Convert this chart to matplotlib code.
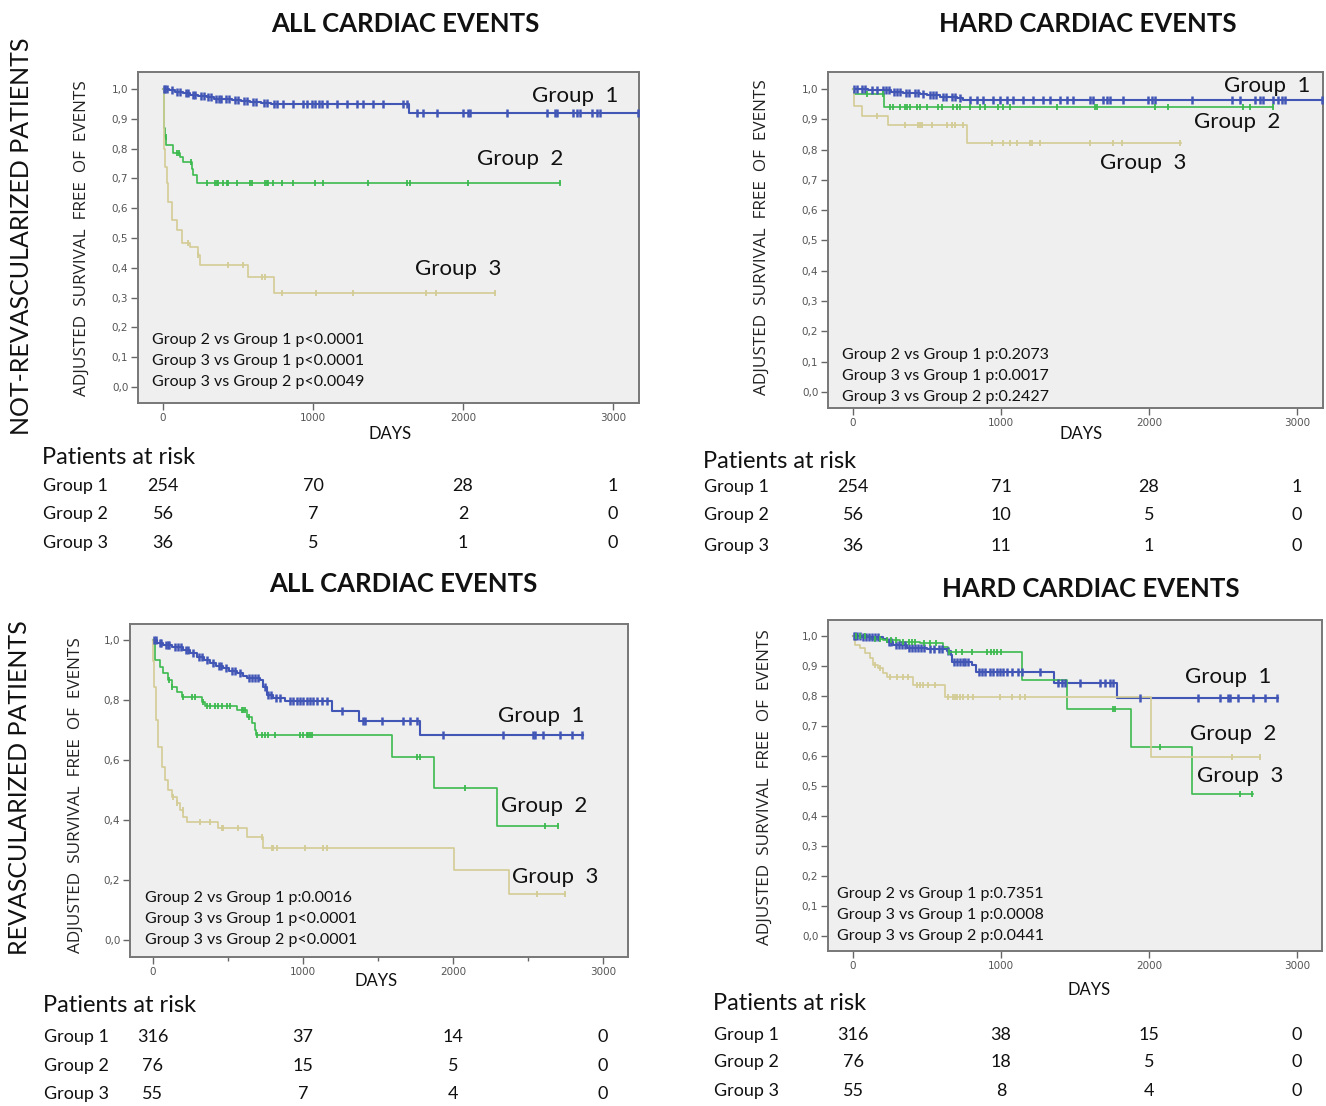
import numpy as np
import matplotlib
matplotlib.use('Agg')
import matplotlib.pyplot as plt
from matplotlib.transforms import blended_transform_factory

# ---- data (days, adjusted survival) ----
# Panel A: not-revascularized, all cardiac events
a_g1_t = [0, 40, 80, 130, 180, 230, 290, 340, 400, 460, 520, 580, 650, 720, 1640]
a_g1_s = [1.0, 0.995, 0.99, 0.985, 0.98, 0.976, 0.972, 0.968, 0.965, 0.962, 0.958, 0.955, 0.952, 0.948, 0.92]
a_g1_end = 3169
a_g1_cens = [5, 15, 25, 60, 95, 110, 150, 165, 200, 215, 250, 270, 300, 320, 355, 370, 385, 420, 440,
             480, 500, 540, 560, 600, 620, 670, 690, 740, 758, 800, 868, 935, 960, 990, 1010, 1040,
             1060, 1093, 1160, 1227, 1293, 1333, 1400, 1467, 1600, 1627, 1691, 1736, 1824, 2002,
             2036, 2047, 2291, 2558, 2613, 2624, 2735, 2758, 2780, 2858, 2891, 2913, 3169]
a_g2_t = [0, 3, 10, 22, 69, 113, 136, 191, 202, 224]
a_g2_s = [1.0, 0.87, 0.84, 0.812, 0.784, 0.771, 0.756, 0.73, 0.711, 0.686]
a_g2_end = 2645
a_g2_cens = [20, 90, 105, 185, 291, 347, 358, 369, 402, 424, 436, 491, 580, 591, 680, 691, 702, 736,
             791, 869, 1013, 1069, 1369, 1624, 1647, 2036, 2645]
a_g3_t = [0, 5, 13, 24, 36, 58, 91, 124, 180, 236, 247, 569, 740]
a_g3_s = [1.0, 0.8, 0.739, 0.683, 0.622, 0.56, 0.527, 0.482, 0.471, 0.443, 0.409, 0.368, 0.314]
a_g3_end = 2213
a_g3_cens = [169, 236, 436, 536, 658, 680, 791, 1020, 1269, 1753, 1820, 2213]

# Panel B: not-revascularized, hard cardiac events
b_g1_t = [0, 100, 182, 260, 340, 400, 453, 498, 588, 650, 700, 745]
b_g1_s = [1.0, 0.998, 0.995, 0.991, 0.988, 0.986, 0.983, 0.98, 0.975, 0.972, 0.969, 0.964]
b_g1_end = 3170
b_g1_cens = [10, 30, 60, 80, 130, 160, 200, 220, 240, 280, 300, 320, 360, 380, 420, 440, 470, 520,
             540, 560, 610, 630, 670, 690, 720, 791, 836, 881, 948, 993, 1038, 1083, 1151, 1218,
             1286, 1331, 1399, 1444, 1489, 1601, 1624, 1691, 1714, 1736, 1826, 1995, 2018, 2041,
             2288, 2559, 2615, 2716, 2750, 2772, 2840, 2874, 2897, 2919, 3167]
b_g2_t = [0, 10, 209]
b_g2_s = [1.0, 0.982, 0.94]
b_g2_end = 2840
b_g2_cens = [92, 205, 250, 273, 318, 351, 363, 385, 430, 453, 498, 577, 599, 678, 700, 723, 791,
             858, 892, 982, 1016, 1061, 1376, 1635, 1646, 2041, 2131, 2637, 2682, 2840]
b_g3_t = [0, 10, 59, 239, 768]
b_g3_s = [1.0, 0.944, 0.912, 0.881, 0.823]
b_g3_end = 2215
b_g3_cens = [160, 351, 441, 453, 464, 532, 633, 667, 689, 745, 937, 1016, 1061, 1106, 1196, 1207,
             1264, 1601, 1759, 1815, 2209]

# Panel C: revascularized, all cardiac events
c_g1_t = [0, 30, 69, 130, 202, 250, 291, 340, 380, 420, 469, 510, 558, 600, 624, 713, 736, 758,
          802, 880, 1191, 1376, 1780]
c_g1_s = [1.0, 0.99, 0.982, 0.975, 0.967, 0.955, 0.944, 0.933, 0.922, 0.914, 0.906, 0.897, 0.889,
          0.88, 0.872, 0.865, 0.844, 0.817, 0.807, 0.797, 0.764, 0.731, 0.683]
c_g1_end = 2870
c_g1_cens = [10, 20, 45, 55, 90, 100, 110, 150, 170, 185, 220, 235, 270, 310, 325, 360, 400, 440,
             455, 490, 530, 545, 580, 640, 660, 680, 700, 750, 770, 790, 820, 850, 913, 936, 958,
             980, 1002, 1024, 1047, 1069, 1091, 1124, 1158, 1258, 1402, 1413, 1524, 1669, 1713,
             1758, 1936, 2336, 2536, 2547, 2602, 2713, 2791, 2858]
c_g2_t = [0, 13, 47, 69, 102, 124, 158, 191, 324, 347, 558, 624, 658, 680, 687, 1591, 1873, 2291]
c_g2_s = [1.0, 0.933, 0.911, 0.889, 0.867, 0.844, 0.828, 0.809, 0.794, 0.78, 0.767, 0.744, 0.722,
          0.7, 0.683, 0.611, 0.508, 0.381]
c_g2_end = 2702
c_g2_cens = [109, 130, 202, 258, 280, 336, 358, 380, 413, 436, 458, 491, 513, 591, 602, 613, 640,
             691, 724, 747, 769, 813, 980, 1002, 1024, 1036, 1047, 1058, 1758, 1780, 2080, 2613, 2702]
c_g3_t = [0, 3, 7, 20, 36, 58, 80, 102, 124, 158, 180, 202, 224, 436, 624, 736, 2007, 2373]
c_g3_s = [1.0, 0.93, 0.844, 0.733, 0.644, 0.578, 0.533, 0.5, 0.478, 0.456, 0.433, 0.411, 0.394,
          0.372, 0.342, 0.306, 0.233, 0.153]
c_g3_end = 2747
c_g3_cens = [135, 160, 200, 311, 380, 458, 469, 569, 724, 791, 802, 824, 1013, 1136, 1158, 2558, 2747]

# Panel D: revascularized, hard cardiac events
d_g1_t = [0, 60, 205, 227, 273, 363, 500, 633, 660, 671, 806, 829, 1356, 1782]
d_g1_s = [1.0, 0.995, 0.99, 0.981, 0.97, 0.959, 0.955, 0.95, 0.937, 0.914, 0.903, 0.879, 0.844, 0.794]
d_g1_end = 2874
d_g1_cens = [5, 15, 30, 45, 70, 90, 110, 130, 150, 170, 240, 260, 290, 310, 330, 350, 380, 400,
             420, 440, 460, 480, 520, 550, 580, 600, 640, 680, 700, 720, 740, 760, 780, 850, 870,
             890, 926, 948, 971, 993, 1016, 1038, 1072, 1117, 1140, 1264, 1387, 1410, 1432, 1534,
             1669, 1703, 1736, 1759, 1939, 2333, 2480, 2536, 2547, 2604, 2705, 2784, 2863]
d_g2_t = [0, 115, 205, 318, 453, 611, 640, 1140, 1444, 1876, 2288]
d_g2_s = [1.0, 0.99, 0.987, 0.981, 0.976, 0.964, 0.948, 0.852, 0.757, 0.63, 0.473]
d_g2_end = 2700
d_g2_cens = [20, 50, 80, 150, 180, 230, 260, 290, 340, 380, 400, 420, 480, 520, 559, 649, 694, 739,
             806, 907, 930, 953, 975, 998, 1754, 1770, 2074, 2615, 2694]
d_g3_t = [0, 14, 47, 81, 115, 137, 171, 205, 227, 408, 622, 2014]
d_g3_s = [1.0, 0.97, 0.959, 0.942, 0.926, 0.903, 0.892, 0.876, 0.864, 0.837, 0.797, 0.596]
d_g3_end = 2750
d_g3_cens = [149, 182, 250, 295, 340, 374, 430, 453, 476, 509, 554, 644, 678, 689, 700, 723, 745,
             779, 813, 993, 1072, 1128, 1162, 2559, 2750]

# patients at risk at 0, 1000, 2000, 3000 days
risk_days = [0, 1000, 2000, 3000]
risk_a = [[254, 70, 28, 1], [56, 7, 2, 0], [36, 5, 1, 0]]
risk_b = [[254, 71, 28, 1], [56, 10, 5, 0], [36, 11, 1, 0]]
risk_c = [[316, 37, 14, 0], [76, 15, 5, 0], [55, 7, 4, 0]]
risk_d = [[316, 38, 15, 0], [76, 18, 5, 0], [55, 8, 4, 0]]

group_names = ['Group 1', 'Group 2', 'Group 3']
pvals_a = ['Group 2 vs Group 1 p<0.0001', 'Group 3 vs Group 1 p<0.0001', 'Group 3 vs Group 2 p<0.0049']
pvals_b = ['Group 2 vs Group 1 p:0.2073', 'Group 3 vs Group 1 p:0.0017', 'Group 3 vs Group 2 p:0.2427']
pvals_c = ['Group 2 vs Group 1 p:0.0016', 'Group 3 vs Group 1 p<0.0001', 'Group 3 vs Group 2 p<0.0001']
pvals_d = ['Group 2 vs Group 1 p:0.7351', 'Group 3 vs Group 1 p:0.0008', 'Group 3 vs Group 2 p:0.0441']

colors = ['#4256b6', '#3dba4f', '#d3cc96']

# ---- figure ----
W, H = 1326, 1106
fig = plt.figure(figsize=(W / 100, H / 100), dpi=100)
fig.patch.set_facecolor('white')
FONT = 'Lato'


def fx(x):
    return x / W


def fy(y):
    return 1 - y / H


def txt(x, y, s, **kw):
    kw.setdefault('family', FONT)
    kw.setdefault('color', '#111111')
    fig.text(fx(x), fy(y), s, **kw)


def km(ax, t, s, end, cens, color, lw=1.2, ms=5, mew=1.3):
    tt = list(t) + [end]
    ss = list(s) + [s[-1]]
    ax.step(tt, ss, where='post', color=color, lw=lw, zorder=3)
    idx = np.searchsorted(t, cens, side='right') - 1
    ax.plot(cens, np.array(s)[idx], ls='none', marker='|', ms=ms, mew=mew, color=color, zorder=4)


def panel(box, xlim, ylim, yticks, curves, pvals, p_pos, lab_pos, title, title_pos,
          ylab_pos, days_pos, risk, risk_head, risk_rows, risk_lab_x, minor=False):
    x0, y0, x1, y1 = box
    ax = fig.add_axes([fx(x0), fy(y1), (x1 - x0) / W, (y1 - y0) / H])
    ax.set_facecolor('#efefef')
    for i, (c, (t, s, end, cens)) in enumerate(zip(colors, curves)):
        if i == 0:
            km(ax, t, s, end, cens, c, lw=1.5, ms=6, mew=1.8)
        else:
            km(ax, t, s, end, cens, c)
    ax.set_xlim(*xlim)
    ax.set_ylim(*ylim)
    ax.set_xticks(risk_days)
    ax.set_yticks(yticks)
    ax.set_yticklabels([f'{v:.1f}'.replace('.', ',') for v in yticks])
    if minor:
        ax.set_xticks([500, 1500, 2500], minor=True)
    ax.tick_params(axis='both', which='both', direction='out', length=5, width=1,
                   color='#666666', labelsize=7.5, labelcolor='#555555', pad=2)
    ax.tick_params(which='minor', length=3)
    for sp in ax.spines.values():
        sp.set_color('#777777')
        sp.set_linewidth(1.4)
    # in-plot texts
    for (px, py), p in zip(p_pos, pvals):
        txt(px, py, p, fontsize=11.5, ha='left', va='center')
    for (px, py), g in zip(lab_pos, group_names):
        txt(px, py, g.replace(' ', '  '), fontsize=16, ha='center', va='center')
    txt(title_pos[0], title_pos[1], title, fontsize=18.5, weight='bold', ha='center', va='center')
    txt(ylab_pos[0], ylab_pos[1], 'ADJUSTED  SURVIVAL  FREE  OF  EVENTS', fontsize=12.3,
        rotation=90, ha='center', va='center', color='#222222', family='Open Sans')
    txt(days_pos[0], days_pos[1], 'DAYS', fontsize=12, ha='center', va='center')
    # patients at risk table
    txt(risk_lab_x, risk_head, 'Patients at risk', fontsize=17, ha='left', va='center')
    tr = blended_transform_factory(ax.transData, fig.transFigure)
    for g, row, ry in zip(group_names, risk, risk_rows):
        txt(risk_lab_x + 1, ry, g, fontsize=13, ha='left', va='center')
        for d, n in zip(risk_days, row):
            ax.text(d, fy(ry), str(n), transform=tr, fontsize=13, ha='center', va='center',
                    family=FONT, color='#111111', clip_on=False)
    return ax


yt10 = [0.0, 0.1, 0.2, 0.3, 0.4, 0.5, 0.6, 0.7, 0.8, 0.9, 1.0]
yt5 = [0.0, 0.2, 0.4, 0.6, 0.8, 1.0]

panel((138, 72, 639, 403), (-167, 3173), (-0.054, 1.057), yt10,
      [(a_g1_t, a_g1_s, a_g1_end, a_g1_cens), (a_g2_t, a_g2_s, a_g2_end, a_g2_cens),
       (a_g3_t, a_g3_s, a_g3_end, a_g3_cens)],
      pvals_a, [(152, 340), (152, 361), (152, 382)], [(575, 96), (520, 159), (458, 269)],
      'ALL CARDIAC EVENTS', (405, 24), (82, 238), (390, 434),
      risk_a, 458, [486, 514, 543], 42)

panel((828, 72, 1323, 408), (-169, 3176), (-0.053, 1.056), yt10,
      [(b_g1_t, b_g1_s, b_g1_end, b_g1_cens), (b_g2_t, b_g2_s, b_g2_end, b_g2_cens),
       (b_g3_t, b_g3_s, b_g3_end, b_g3_cens)],
      pvals_b, [(842, 355), (842, 376), (842, 397)], [(1267, 86), (1237, 122), (1143, 163)],
      'HARD CARDIAC EVENTS', (1088, 24), (762, 237), (1081, 434),
      risk_b, 461, [487, 515, 546], 703)

panel((130, 624, 628, 957), (-153, 3167), (-0.057, 1.053), yt5,
      [(c_g1_t, c_g1_s, c_g1_end, c_g1_cens), (c_g2_t, c_g2_s, c_g2_end, c_g2_cens),
       (c_g3_t, c_g3_s, c_g3_end, c_g3_cens)],
      pvals_c, [(145, 898), (145, 919), (145, 940)], [(541, 716), (544, 806), (555, 877)],
      'ALL CARDIAC EVENTS', (403, 584), (76, 795), (376, 981),
      risk_c, 1005, [1037, 1066, 1094], 43, minor=True)

panel((828, 620, 1322, 951), (-169, 3169), (-0.05, 1.053), yt10,
      [(d_g1_t, d_g1_s, d_g1_end, d_g1_cens), (d_g2_t, d_g2_s, d_g2_end, d_g2_cens),
       (d_g3_t, d_g3_s, d_g3_end, d_g3_cens)],
      pvals_d, [(837, 894), (837, 915), (837, 936)], [(1228, 677), (1233, 734), (1240, 776)],
      'HARD CARDIAC EVENTS', (1091, 589), (765, 787), (1089, 990),
      risk_d, 1003, [1035, 1062, 1091], 713)

# row labels
txt(22, 236, 'NOT-REVASCULARIZED PATIENTS', fontsize=18, rotation=90, ha='center', va='center')
txt(20, 788, 'REVASCULARIZED PATIENTS', fontsize=18, rotation=90, ha='center', va='center')

fig.savefig('out.png', dpi=100, facecolor='white')
